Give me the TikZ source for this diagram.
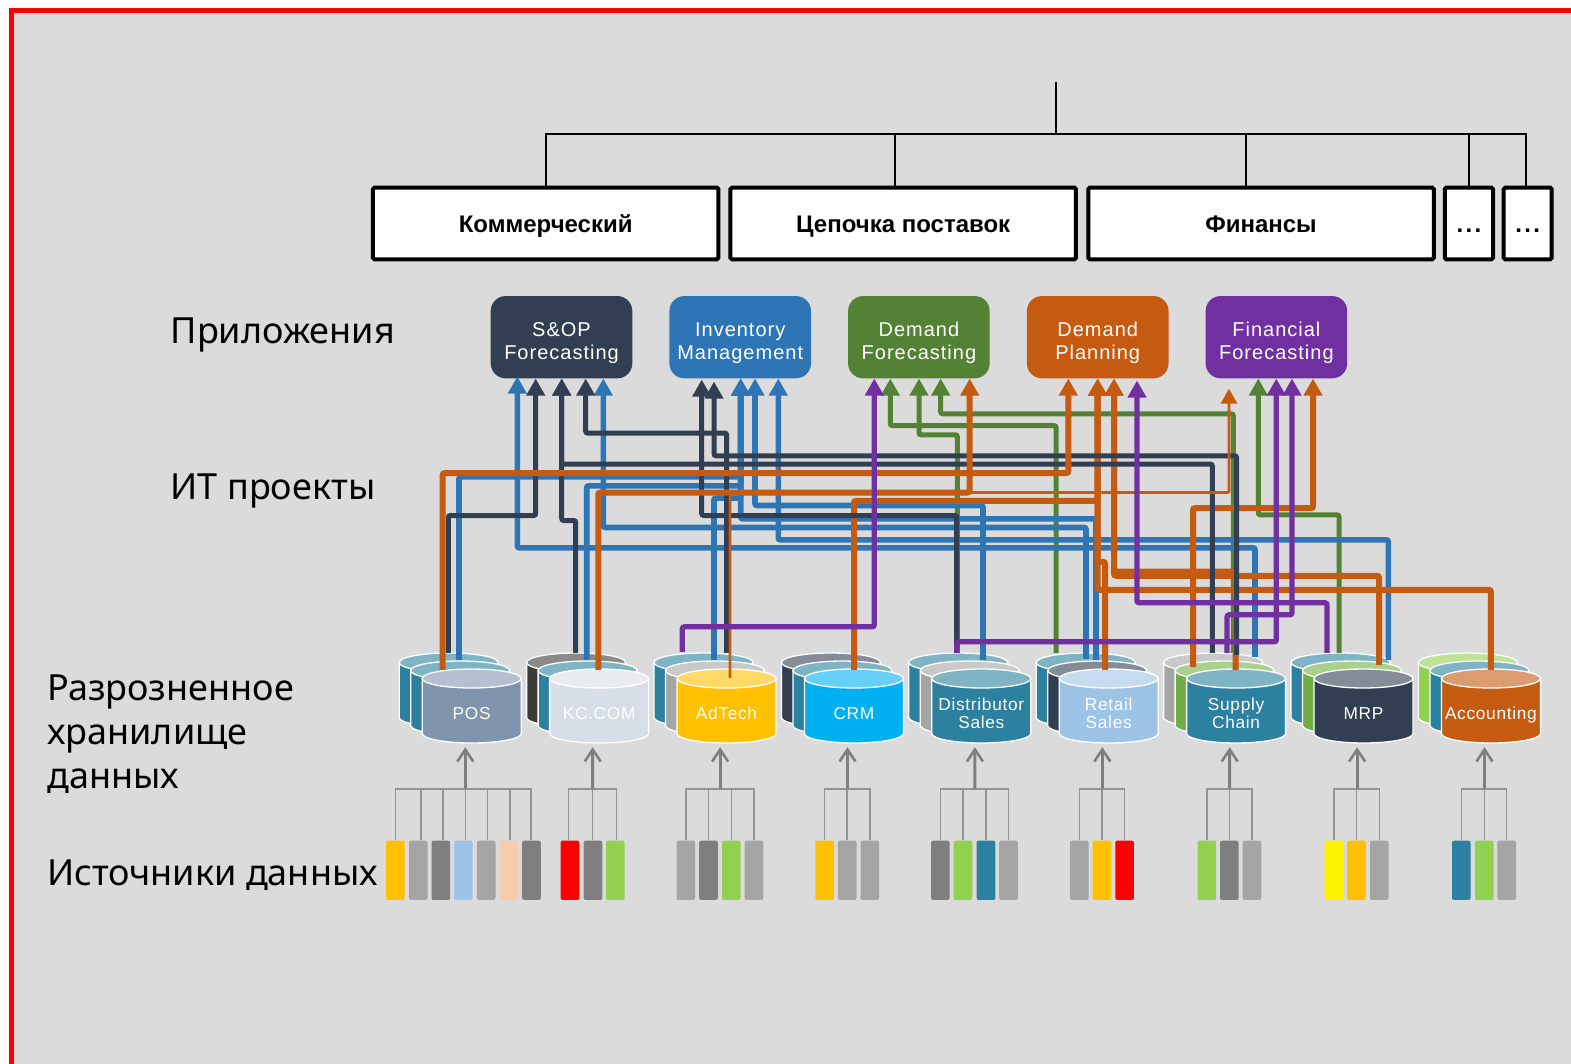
\documentclass[tikz,border=0pt]{standalone}
\usepackage{fontspec}
\usetikzlibrary{arrows.meta}
\setmainfont{Liberation Sans}
\newfontfamily\lblfont{Noto Sans}
\definecolor{cnavy}{HTML}{323E52}
\definecolor{cblue}{HTML}{2E75B6}
\definecolor{cgreen}{HTML}{548235}
\definecolor{corange}{HTML}{C55A11}
\definecolor{cpurple}{HTML}{7030A0}
\definecolor{cteal}{HTML}{2B819F}
\definecolor{cteallt}{HTML}{7FB4C5}
\definecolor{cgray}{HTML}{A5A5A5}
\definecolor{cgraylt}{HTML}{C9C9C9}
\definecolor{cdark}{HTML}{7F7F7F}
\definecolor{cblk}{HTML}{3A3A38}
\definecolor{cblklt}{HTML}{8A8A88}
\definecolor{cnavylt}{HTML}{858B97}
\definecolor{cgrn}{HTML}{70AD47}
\definecolor{cgrnlt}{HTML}{A9D18E}
\definecolor{clime}{HTML}{92D050}
\definecolor{climelt}{HTML}{BEE395}
\definecolor{cslate}{HTML}{8094AE}
\definecolor{cslatelt}{HTML}{B4C0D1}
\definecolor{cpale}{HTML}{D8DEE8}
\definecolor{cpalelt}{HTML}{E8EBEF}
\definecolor{camber}{HTML}{FFC000}
\definecolor{camberlt}{HTML}{FFD966}
\definecolor{csky}{HTML}{00B0F0}
\definecolor{cskylt}{HTML}{66D0F6}
\definecolor{clblue}{HTML}{9DC3E6}
\definecolor{clbluelt}{HTML}{C4DBF0}
\definecolor{corglt}{HTML}{DC9C70}
\definecolor{cpeach}{HTML}{F8CBAD}
\definecolor{cbg}{HTML}{DBDBDB}
\newcommand\cyltxt[1]{\rule{0pt}{16pt}#1\rule[-4pt]{0pt}{4pt}}
\newcommand\apptxt[1]{\rule{0pt}{26pt}#1\rule[-5.4pt]{0pt}{5.4pt}}
\newcommand\orgtxt[1]{\rule{0pt}{24pt}#1\rule[-6pt]{0pt}{6pt}}
\tikzset{
  cylline/.style={draw=white,line width=1.3pt},
  cyltext/.style={text=white,align=center,minimum width=99pt,minimum height=60pt,inner sep=0pt,
     font=\fontsize{17.3}{18}\selectfont\addfontfeature{LetterSpace=4}},
  appbox/.style={rounded corners=15pt,minimum width=141.6pt,minimum height=82.3pt,inner sep=0pt,text=white,align=center,
     font=\fontsize{20}{23}\selectfont\addfontfeature{LetterSpace=5}},
  orgbox/.style={draw=black,fill=white,line width=4pt,rounded corners=1.5pt,minimum height=71.6pt,inner sep=0pt,
     font=\fontsize{24}{26}\selectfont\bfseries},
  dotsbox/.style={orgbox,font=\fontsize{24}{26}\selectfont\bfseries\addfontfeature{LetterSpace=10}},
  srcbar/.style={rounded corners=2pt,minimum width=18.6pt,minimum height=59.3pt,inner sep=0pt},
  lbl/.style={anchor=west,inner sep=0pt,align=left,font=\fontsize{36}{44}\selectfont\lblfont},
  wire/.style={line width=5.4pt,rounded corners=2pt,draw=#1,-{Triangle[length=17pt,width=18pt]}},
  wgreen/.style={wire=cgreen,line width=5pt},
  wblue/.style={wire=cblue,line width=5.6pt},
  wnavy/.style={wire=cnavy,line width=5pt},
  worange/.style={wire=corange,line width=6pt},
  wpurple/.style={wire=cpurple,line width=5.2pt},
  thinwire/.style={line width=2.6pt,rounded corners=1pt,draw=#1,-{Triangle[length=15pt,width=16pt]}},
  orgline/.style={draw=black,line width=2pt},
  treeline/.style={draw=black!42,line width=1.5pt},
  feedline/.style={draw=cdark,line width=3pt,-{Straight Barb[length=12pt,width=16pt,line width=2.6pt]}},
}
\newcommand\dbcyl[4]{%
  \begin{scope}[shift={(#1,#2)}]
    \draw[cylline,fill=#3] (-49.5,0) -- (-49.5,55) .. controls (-49.5,60.2) and (-27.3,64.5) .. (0,64.5)
       .. controls (27.3,64.5) and (49.5,60.2) .. (49.5,55) -- (49.5,0) -- cycle;
    \draw[cylline,fill=#4] (0,0) ellipse [x radius=49.5,y radius=9.5];
  \end{scope}}
\newcommand\dbstack[7]{%
  \dbcyl{{#1-23}}{662.5}{#2}{#3}%
  \dbcyl{{#1-11.5}}{670.5}{#4}{#5}%
  \dbcyl{#1}{678.5}{#6}{#7}}
\begin{document}
\begin{tikzpicture}[x=1pt,y=-1pt]
\useasboundingbox (0,0) rectangle (1571,1063);
\clip (0,0) rectangle (1571,1063);
\fill[white] (0,0) rectangle (1571,1063);
\draw[red,fill=cbg,line width=5pt] (11.7,10) rectangle (1600,1100);

% organisation tree
\node[orgbox,minimum width=345.5pt] (com) at (545.7,223.5) {\orgtxt{Коммерческий}};
\node[orgbox,minimum width=345.5pt] (sup) at (903.2,223.5) {\orgtxt{Цепочка поставок}};
\node[orgbox,minimum width=345.5pt] (fi) at (1261,223.5) {\orgtxt{Финансы}};
\node[dotsbox,minimum width=48.3pt] (e1) at (1468.9,223.5) {\orgtxt{...}};
\node[dotsbox,minimum width=48pt] (e2) at (1527.7,223.5) {\orgtxt{...}};
\coordinate (orgtop) at (1056,82);
\coordinate (orgbus) at (1056,134);
\draw[orgline] (orgtop) -- (orgbus);
\draw[orgline] ([xshift=0.3pt]com.north) |- (orgbus);
\draw[orgline] ([xshift=-8.2pt]sup.north) |- (orgbus);
\draw[orgline] ([xshift=-15.5pt]fi.north) |- (orgbus);
\draw[orgline] (e1.north) |- (orgbus);
\draw[orgline] ([xshift=-2pt]e2.north) |- (orgbus);

% left labels
\node[lbl] at (170.5,335) {Приложения};
\node[lbl] at (170.5,491) {ИТ проекты};
\node[lbl] at (47,734) {Разрозненное\\хранилище\\данных};
\node[lbl] at (47,875) {Источники данных};

% applications
\node[appbox,fill=cnavy] (sop) at (561.5,337.2) {\apptxt{S\&OP\\Forecasting}};
\node[appbox,fill=cblue] (inv) at (740.2,337.2) {\apptxt{Inventory\\Management}};
\node[appbox,fill=cgreen] (dfc) at (918.9,337.2) {\apptxt{Demand\\Forecasting}};
\node[appbox,fill=corange] (dpl) at (1097.7,337.2) {\apptxt{Demand\\Planning}};
\node[appbox,fill=cpurple] (fin) at (1276.4,337.2) {\apptxt{Financial\\Forecasting}};

% storages
\dbstack{471.7}{cteal}{cteallt}{cteal}{cteallt}{cslate}{cslatelt}
\dbstack{599.1}{cblk}{cblklt}{cteal}{cteallt}{cpale}{cpalelt}
\dbstack{726.5}{cteal}{cteallt}{cgray}{cgraylt}{camber}{camberlt}
\dbstack{853.9}{cnavy}{cnavylt}{cteal}{cteallt}{csky}{cskylt}
\dbstack{981.3}{cteal}{cteallt}{cgray}{cgraylt}{cteal}{cteallt}
\dbstack{1108.7}{cteal}{cteallt}{cnavy}{cnavylt}{clblue}{clbluelt}
\dbstack{1236.1}{cgray}{cgraylt}{cgrn}{cgrnlt}{cteal}{cteallt}
\dbstack{1363.5}{cteal}{cteallt}{cgrn}{cgrnlt}{cnavy}{cnavylt}
\dbstack{1490.9}{clime}{climelt}{cteal}{cteallt}{corange}{corglt}
\node[cyltext] (pos) at (471.7,713) {\cyltxt{POS}};
\node[cyltext] (kc) at (599.1,713) {\cyltxt{KC.COM}};
\node[cyltext] (ad) at (726.5,713) {\cyltxt{AdTech}};
\node[cyltext] (crm) at (853.9,713) {\cyltxt{CRM}};
\node[cyltext] (dis) at (981.3,713) {\cyltxt{Distributor\\Sales}};
\node[cyltext] (ret) at (1108.7,713) {\cyltxt{Retail\\Sales}};
\node[cyltext] (sch) at (1236.1,713) {\cyltxt{Supply\\Chain}};
\node[cyltext] (mrp) at (1363.5,713) {\cyltxt{MRP}};
\node[cyltext] (acc) at (1490.9,713) {\cyltxt{Accounting}};

% green wires
\draw[wgreen] ([shift={(-52.7,-30)}]ret.north) -- ++(0,-227.3) -| ([shift={(-28.6,0)}]dfc.south);
\draw[wgreen] ([shift={(-24,-30)}]dis.north) -- ++(0,-218) -| ([shift={(0.1,0)}]dfc.south);
\draw[wgreen] ([shift={(-2.8,-30)}]sch.north) -- ++(0,-239) -| ([shift={(21.8,0)}]dfc.south);
\draw[wgreen] ([shift={(-24.5,-30)}]mrp.north) -- ++(0,-138) -| ([shift={(-18.1,0)}]fin.south);
% blue wires
\draw[wblue] ([shift={(18.9,-26)}]sch.north) -- ++(0,-109) -| ([shift={(-44.2,-2)}]sop.south);
\draw[wblue] ([shift={(-22.7,-24)}]ret.north) -- ++(0,-131.3) -| ([shift={(41.8,0)}]sop.south);
\draw[wblue] ([shift={(-12.4,-23)}]kc.north) -- ++(0,-174) -| ([shift={(0.5,0)}]inv.south);
\draw[wblue] ([shift={(-12.7,-23)}]ret.north) -- ++(0,-141) -| ([shift={(0.5,0)}]inv.south);
\draw[wblue] ([shift={(1.7,-23)}]dis.north) -- ++(0,-154.3) -| ([shift={(14.8,0)}]inv.south);
\draw[wblue] ([shift={(24.8,-23)}]mrp.north) -- ++(0,-120) -| ([shift={(38.1,0)}]inv.south);
\draw[wblue] ([shift={(-12.5,-23)}]ad.north) -- ++(0,-161.7) -| ([shift={(0.5,0)}]inv.south);
\draw[wblue] ([shift={(-12.7,-23)}]pos.north) -- ++(0,-183) -| ([shift={(0.5,0)}]inv.south);
% orange wires, under the dark ones
\draw[worange] ([shift={(0.1,-13)}]crm.north) -- ++(0,-169) -| (dpl.south);
\draw[worange] ([shift={(0,-13)}]acc.north) -- ++(0,-80) -| (dpl.south);
\draw[worange] ([shift={(-3.7,-13)}]ret.north) -- ++(0,-108) -| (dpl.south);
\draw[worange] ([shift={(-0.4,-13)}]sch.north) -- ++(0,-98.3) -| ([shift={(16.3,0)}]dpl.south);
\draw[worange] ([shift={(15.5,-18)}]mrp.north) -- ++(0,-89) -| ([shift={(16.3,0)}]dpl.south);
\draw[worange] ([shift={(-43.1,-16)}]sch.north) -- ++(0,-158.7) -| ([shift={(36.6,0)}]fin.south);
% dark wires
\draw[wnavy] ([shift={(0.2,-30)}]ad.north) -- ++(0,-219.7) -| ([shift={(24.2,0)}]sop.south);
\draw[wnavy] ([shift={(-23.4,-30)}]kc.north) -- ++(0,-132.3) -| ([shift={(0.2,0)}]sop.south);
\draw[wnavy] ([shift={(-23.8,-30)}]sch.north) -- ++(0,-188.7) -| ([shift={(0.2,0)}]sop.south);
\draw[wnavy] ([shift={(-23.4,-30)}]pos.north) -- ++(0,-137.3) -| ([shift={(-25.8,0)}]sop.south);
\draw[wnavy] ([shift={(-24.6,-30)}]dis.north) -- ++(0,-137.3) -| ([shift={(-38.5,1)}]inv.south);
\draw[wnavy] ([shift={(0.6,-28)}]sch.north) -- ++(0,-199) -| ([shift={(-26.2,3)}]inv.south);
% orange wires, over the dark ones
\draw[worange] ([shift={(-29,-13)}]pos.north) -- ++(0,-196.7) -| ([shift={(-29.4,0)}]dpl.south);
\draw[worange] ([shift={(-0.8,-13)}]kc.north) -- ++(0,-177.3) -| ([shift={(50.8,0)}]dfc.south);
\draw[thinwire=corange] ([shift={(3.5,-5)}]ad.north) -- ++(0,-185.3) -| ([shift={(-47.4,10)}]fin.south);
% purple wires
\draw[wpurple] ([shift={(-44.2,-31)}]ad.north) -- ++(0,-25) -| ([shift={(-44.6,0)}]dfc.south);
\draw[wpurple] ([shift={(-36.5,-30)}]mrp.north) -- ++(0,-50) -| ([shift={(39.3,2)}]dpl.south);
\draw[wpurple] ([shift={(-24.6,-30)}]dis.north) -- ++(0,-11) -| ([shift={(-0.1,0)}]fin.south);
\draw[wpurple] ([shift={(-9.1,-30)}]sch.north) -- ++(0,-38) -| ([shift={(15.6,0)}]fin.south);

% data sources
\node[srcbar,fill=camber] (a1) at (395.4,870.3) {};
\node[srcbar,fill=cgray] (a2) at (418.3,870.3) {};
\node[srcbar,fill=cdark] (a3) at (440.8,870.3) {};
\node[srcbar,fill=clblue] (a4) at (463.3,870.3) {};
\node[srcbar,fill=cgray] (a5) at (486.2,870.3) {};
\node[srcbar,fill=cpeach] (a6) at (509,870.3) {};
\node[srcbar,fill=cdark] (a7) at (531.5,870.3) {};
\node[srcbar,fill=red] (b1) at (570,870.3) {};
\node[srcbar,fill=cdark] (b2) at (593,870.3) {};
\node[srcbar,fill=clime] (b3) at (615.3,870.3) {};
\node[srcbar,fill=cgray] (c1) at (685.8,870.3) {};
\node[srcbar,fill=cdark] (c2) at (708.5,870.3) {};
\node[srcbar,fill=clime] (c3) at (731.3,870.3) {};
\node[srcbar,fill=cgray] (c4) at (754,870.3) {};
\node[srcbar,fill=camber] (d1) at (824.6,870.3) {};
\node[srcbar,fill=cgray] (d2) at (847.2,870.3) {};
\node[srcbar,fill=cgray] (d3) at (869.8,870.3) {};
\node[srcbar,fill=cdark] (e1s) at (940.4,870.3) {};
\node[srcbar,fill=clime] (e2s) at (963,870.3) {};
\node[srcbar,fill=cteal] (e3s) at (986,870.3) {};
\node[srcbar,fill=cgray] (e4s) at (1008.5,870.3) {};
\node[srcbar,fill=cgray] (f1) at (1079.3,870.3) {};
\node[srcbar,fill=camber] (f2) at (1102,870.3) {};
\node[srcbar,fill=red] (f3) at (1124.6,870.3) {};
\node[srcbar,fill=clime] (g1) at (1206.8,870.3) {};
\node[srcbar,fill=cdark] (g2) at (1229.3,870.3) {};
\node[srcbar,fill=cgray] (g3) at (1252,870.3) {};
\node[srcbar,fill=yellow] (h1) at (1333.9,870.3) {};
\node[srcbar,fill=camber] (h2) at (1356.5,870.3) {};
\node[srcbar,fill=cgray] (h3) at (1379.3,870.3) {};
\node[srcbar,fill=cteal] (i1) at (1461.3,870.3) {};
\node[srcbar,fill=clime] (i2) at (1484.3,870.3) {};
\node[srcbar,fill=cgray] (i3) at (1506.7,870.3) {};

% source trees
\coordinate (ha) at (465.3,789);
\coordinate (hb) at (592.7,789);
\coordinate (hc) at (720.1,789);
\coordinate (hd) at (847.5,789);
\coordinate (he) at (974.9,789);
\coordinate (hf) at (1102.3,789);
\coordinate (hg) at (1229.7,789);
\coordinate (hh) at (1357.1,789);
\coordinate (hi) at (1484.5,789);
\foreach \b/\d in {a1/0.3,a2/2.7,a3/2.2,a4/2,a5/1.4,a6/1,a7/-0.5}{\draw[treeline] ([xshift=\d pt]\b.north) |- (ha);}
\foreach \b/\d in {b1/-1.7,b2/-0.3,b3/1.4}{\draw[treeline] ([xshift=\d pt]\b.north) |- (hb);}
\foreach \b in {c1,c2,c3,c4}{\draw[treeline] (\b.north) |- (hc);}
\foreach \b in {d1,d2,d3}{\draw[treeline] (\b.north) |- (hd);}
\foreach \b in {e1s,e2s,e3s,e4s}{\draw[treeline] (\b.north) |- (he);}
\foreach \b in {f1,f2,f3}{\draw[treeline] (\b.north) |- (hf);}
\foreach \b in {g1,g2,g3}{\draw[treeline] (\b.north) |- (hg);}
\foreach \b in {h1,h2,h3}{\draw[treeline] (\b.north) |- (hh);}
\foreach \b in {i1,i2,i3}{\draw[treeline] (\b.north) |- (hi);}
\draw[feedline] (ha) -- ([shift={(-6.4,4)}]pos.south);
\draw[feedline] (hb) -- ([shift={(-6.4,4)}]kc.south);
\draw[feedline] (hc) -- ([shift={(-6.4,4)}]ad.south);
\draw[feedline] (hd) -- ([shift={(-6.4,4)}]crm.south);
\draw[feedline] (he) -- ([shift={(-6.4,4)}]dis.south);
\draw[feedline] (hf) -- ([shift={(-6.4,4)}]ret.south);
\draw[feedline] (hg) -- ([shift={(-6.4,4)}]sch.south);
\draw[feedline] (hh) -- ([shift={(-6.4,4)}]mrp.south);
\draw[feedline] (hi) -- ([shift={(-6.4,4)}]acc.south);
\end{tikzpicture}
\end{document}
